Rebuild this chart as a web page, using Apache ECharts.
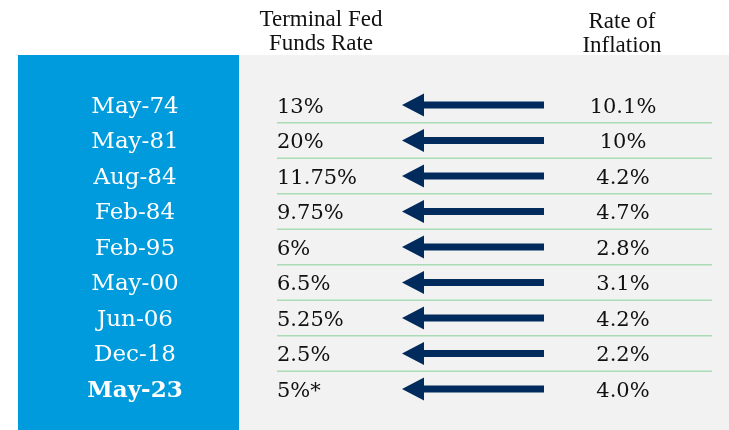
<!DOCTYPE html>
<html lang="en">
<head>
    <meta charset="UTF-8">
    <title>Terminal Fed Funds Rate vs Inflation</title>
    <script src="https://cdn.jsdelivr.net/npm/echarts@6/dist/echarts.min.js"></script>
    <style>
        html, body { margin: 0; padding: 0; background: #fff; }
        #chart { width: 729px; height: 430px; }
    </style>
</head>
<body>
    <div id="chart"></div>
    <script>
        // datos de la tabla
        const dates = ['May-74', 'May-81', 'Aug-84', 'Feb-84', 'Feb-95', 'May-00', 'Jun-06', 'Dec-18', 'May-23'];
        const fedFunds = ['13%', '20%', '11.75%', '9.75%', '6%', '6.5%', '5.25%', '2.5%', '5%*'];
        const inflation = ['10.1%', '10%', '4.2%', '4.7%', '2.8%', '3.1%', '4.2%', '2.2%', '4.0%'];
        const headers = ['Terminal Fed\nFunds Rate', 'Rate of\nInflation'];

        // columnas en unidades del eje x (0..435)
        const colFfr = 0, arrowTip = 125, arrowHead = 147, arrowTail = 267, colInfl = 346;

        const rows = dates.map((d, i) => [i, fedFunds[i], inflation[i]]);

        var myChart = echarts.init(document.getElementById('chart'));

        function renderRow(params, api) {
            const i = api.value(0);
            const y = api.coord([0, i])[1];
            const band = api.size([0, 1])[1];
            const xr = v => api.coord([v, i])[0];
            const children = [];
            if (i < dates.length - 1) {
                children.push({
                    type: 'line',
                    shape: { x1: xr(0), y1: y + band / 2, x2: xr(435), y2: y + band / 2 },
                    style: { stroke: '#a9dbb4', lineWidth: 1.5 }
                });
            }
            children.push({
                type: 'text',
                style: { text: fedFunds[i], x: xr(colFfr), y: y + 2.5, align: 'left', verticalAlign: 'middle',
                    font: '21px "DejaVu Serif"', fill: '#111' }
            });
            const t = xr(arrowTip), h = xr(arrowHead), e = xr(arrowTail);
            children.push({
                type: 'polygon',
                shape: { points: [[t, y], [h, y - 11.5], [h, y - 3.5], [e, y - 3.5], [e, y + 3.5], [h, y + 3.5], [h, y + 11.5]] },
                style: { fill: '#002b5c' }
            });
            children.push({
                type: 'text',
                style: { text: inflation[i], x: xr(colInfl), y: y + 2.5, align: 'center', verticalAlign: 'middle',
                    font: '21px "DejaVu Serif"', fill: '#111' }
            });
            return { type: 'group', children: children };
        }

        var option = {
            animation: false,
            graphic: [
                { type: 'rect', z: -10, shape: { x: 18, y: 55, width: 221, height: 375 }, style: { fill: '#009bdc' } },
                { type: 'rect', z: -10, shape: { x: 239, y: 55, width: 490, height: 375 }, style: { fill: '#f2f2f2' } },
                { type: 'text', style: { text: headers[0], x: 321, y: 32, align: 'center', verticalAlign: 'middle',
                    font: '23px "Liberation Serif"', lineHeight: 24, fill: '#111' } },
                { type: 'text', style: { text: headers[1], x: 622, y: 34, align: 'center', verticalAlign: 'middle',
                    font: '23px "Liberation Serif"', lineHeight: 24, fill: '#111' } }
            ],
            grid: { left: 277, right: 17, top: 87.25, bottom: 23.25 },
            xAxis: { type: 'value', min: 0, max: 435, show: false },
            yAxis: {
                type: 'category',
                inverse: true,
                data: dates,
                axisLine: { show: false },
                axisTick: { show: false },
                splitLine: { show: false },
                axisLabel: {
                    margin: 142,
                    align: 'center',
                    formatter: (v, idx) => idx === dates.length - 1 ? '{b|' + v + '}' : '{n|' + v + '}',
                    rich: {
                        n: { color: '#fff', fontFamily: 'DejaVu Serif', fontSize: 23, padding: [4, 0, 0, 0] },
                        b: { color: '#fff', fontFamily: 'DejaVu Serif', fontSize: 23, fontWeight: 'bold', padding: [4, 0, 0, 0] }
                    }
                }
            },
            series: [{
                type: 'custom',
                renderItem: renderRow,
                data: rows,
                encode: { y: 0 }
            }]
        };

        myChart.setOption(option);
    </script>
</body>
</html>
